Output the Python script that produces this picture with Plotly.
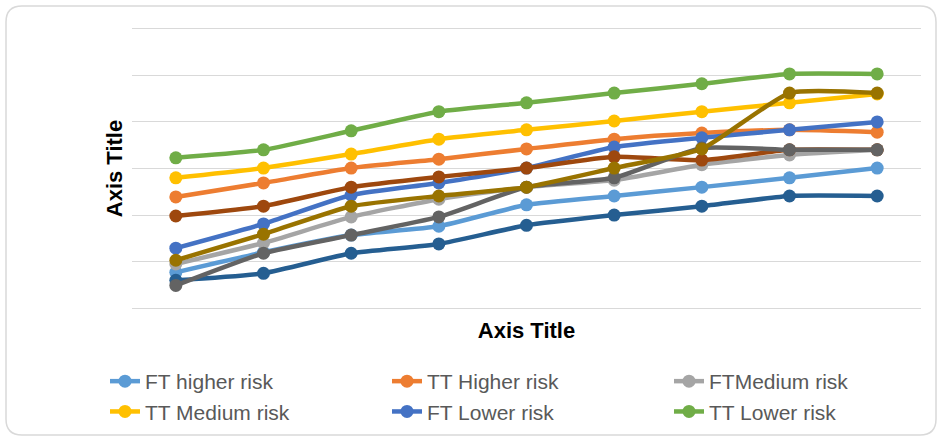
import plotly.graph_objects as go

categories = ["1", "2", "3", "4", "5", "6", "7", "8", "9"]

ft_higher = [0.77, 1.20, 1.57, 1.76, 2.22, 2.41, 2.60, 2.80, 3.01]
tt_higher = [2.39, 2.69, 3.01, 3.20, 3.42, 3.63, 3.76, 3.83, 3.78]
ft_medium = [0.95, 1.40, 1.96, 2.34, 2.60, 2.75, 3.08, 3.29, 3.40]
tt_medium = [2.80, 3.01, 3.31, 3.63, 3.83, 4.02, 4.22, 4.41, 4.60]
ft_lower = [1.29, 1.81, 2.43, 2.69, 3.01, 3.46, 3.66, 3.83, 4.00]
tt_lower = [3.23, 3.40, 3.81, 4.22, 4.41, 4.62, 4.82, 5.03, 5.03]
series7 = [0.60, 0.75, 1.18, 1.38, 1.78, 2.00, 2.19, 2.41, 2.41]
series8 = [1.98, 2.19, 2.60, 2.82, 3.01, 3.25, 3.18, 3.40, 3.40]
series9 = [0.49, 1.18, 1.57, 1.96, 2.60, 2.80, 3.44, 3.40, 3.40]
series10 = [1.03, 1.59, 2.19, 2.41, 2.60, 3.01, 3.42, 4.62, 4.62]

series = [
    ("FT higher risk", ft_higher, "#5B9BD5", True),
    ("TT Higher risk", tt_higher, "#ED7D31", True),
    ("FTMedium risk", ft_medium, "#A5A5A5", True),
    ("TT Medium risk", tt_medium, "#FFC000", True),
    ("FT Lower risk", ft_lower, "#4472C4", True),
    ("TT Lower risk", tt_lower, "#70AD47", True),
    ("Series7", series7, "#255E91", False),
    ("Series8", series8, "#9E480E", False),
    ("Series9", series9, "#636363", False),
    ("Series10", series10, "#997300", False),
]

FONT = "Liberation Sans, Arial, sans-serif"

fig = go.Figure()
for name, vals, color, show in series:
    fig.add_trace(go.Scatter(
        x=categories, y=vals, name=name, mode="lines+markers",
        line=dict(color=color, width=4.5, shape="spline", smoothing=0.5),
        marker=dict(color=color, size=13),
        showlegend=show, cliponaxis=False,
    ))

W, H = 940, 438
L, R, T, B = 132, 19, 26, 127
pw, ph = W - L - R, H - T - B

def px(x):
    return (x - L) / pw

def py(y):
    return (H - B - y) / ph

x0, x1, y0, y1, r = 6, 936, 6, 435, 16
path = (
    f"M {px(x0 + r)} {py(y0)} L {px(x1 - r)} {py(y0)} "
    f"Q {px(x1)} {py(y0)} {px(x1)} {py(y0 + r)} "
    f"L {px(x1)} {py(y1 - r)} Q {px(x1)} {py(y1)} {px(x1 - r)} {py(y1)} "
    f"L {px(x0 + r)} {py(y1)} Q {px(x0)} {py(y1)} {px(x0)} {py(y1 - r)} "
    f"L {px(x0)} {py(y0 + r)} Q {px(x0)} {py(y0)} {px(x0 + r)} {py(y0)} Z"
)

fig.update_layout(
    width=W, height=H,
    margin=dict(l=L, r=R, t=T, b=B, autoexpand=False),
    paper_bgcolor="white", plot_bgcolor="white",
    font=dict(family=FONT, color="#595959"),
    xaxis=dict(
        type="category", range=[-0.5, 8.5], showticklabels=False, showgrid=False,
        zeroline=False, showline=False, ticks="",
        title=dict(text="<b>Axis Title</b>", font=dict(size=22, color="#000000", family=FONT),
                   standoff=11),
    ),
    yaxis=dict(
        range=[-0.06, 6.06], tickvals=[0, 1, 2, 3, 4, 5, 6], showticklabels=False,
        showgrid=True, gridcolor="#D9D9D9",
        gridwidth=1, zeroline=False, showline=False, ticks="",
        title=dict(text="<b>Axis Title</b>", font=dict(size=22, color="#000000", family=FONT),
                   standoff=2),
    ),
    legend=dict(
        orientation="h", x=px(105), xanchor="left", y=py(361), yanchor="top",
        entrywidth=237, entrywidthmode="pixels",
        font=dict(size=21, color="#595959"), bgcolor="rgba(0,0,0,0)",
    ),
    shapes=[dict(type="path", xref="paper", yref="paper", path=path,
                 line=dict(color="#D9D9D9", width=1.5), layer="below")],
)

fig.write_html("out.html", config={"displayModeBar": False},
               post_script="document.body.style.margin='0';")
